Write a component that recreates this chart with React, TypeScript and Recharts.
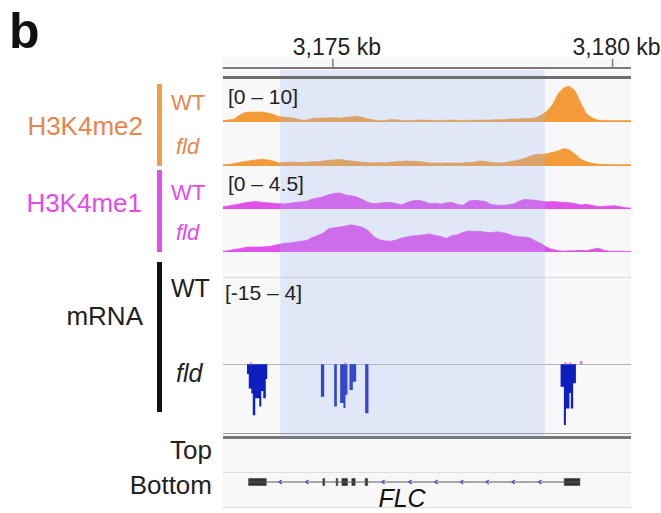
import React from 'react';
import { AreaChart, Area, XAxis, YAxis, ReferenceArea, ReferenceLine, ComposedChart, Scatter } from 'recharts';

const FONT = '"Liberation Sans", Arial, Helvetica, sans-serif';
const W = 661;
const H = 513;
const PLOT_LEFT = 222.7;
const PLOT_RIGHT = 631;
const MARGIN = { top: 0, bottom: 0, left: PLOT_LEFT, right: W - PLOT_RIGHT };

// genomic window (kb)
const X_DOMAIN: [number, number] = [3173.03, 3180.33];
const RULER_TICKS = [3175, 3180];
const HIGHLIGHT: [number, number] = [3174.06, 3178.79];

// signal bins: start + index * step (kb)
const BIN_START = 3173.03;
const BIN_STEP = 0.1;

const H3K4ME2_WT = [
  0.4, 0.5, 0.7, 1.8, 2.5, 2.6, 2.6, 2.6, 2.4, 2.0,
  1.4, 1.3, 1.1, 0.9, 0.5, 0.5, 0.9, 1.0, 1.0, 1.1,
  1.1, 1.0, 1.2, 1.3, 1.5, 1.2, 0.8, 0.5, 0.35, 0.35,
  0.6, 0.6, 0.4, 0.35, 0.4, 0.5, 0.5, 0.4, 0.4, 0.45,
  0.4, 0.5, 0.4, 0.4, 0.45, 0.4, 0.5, 0.45, 0.5, 0.6,
  0.55, 0.7, 0.8, 0.8, 0.9, 0.9, 1.1, 1.8, 2.9, 4.6,
  7.5, 9.0, 9.4, 8.2, 5.0, 2.2, 1.1, 0.5, 0.4, 0.35,
  0.35, 0.35, 0.35, 0.35,
];
const H3K4ME2_FLD = [
  0.35, 0.4, 0.6, 0.9, 1.2, 1.4, 1.6, 1.8, 1.6, 1.3,
  0.8, 0.9, 1.0, 1.0, 0.9, 1.0, 1.1, 1.1, 1.3, 1.5,
  1.6, 1.7, 1.5, 1.3, 1.1, 1.0, 0.9, 0.8, 0.9, 0.8,
  1.0, 1.1, 1.2, 1.3, 1.2, 1.2, 1.0, 0.8, 0.8, 0.7,
  0.8, 0.8, 0.7, 0.8, 0.9, 1.0, 1.3, 1.2, 0.9, 0.8,
  0.8, 1.0, 1.3, 1.6, 2.0, 2.6, 3.0, 3.1, 3.2, 3.6,
  4.0, 4.6, 4.2, 3.1, 1.8, 1.1, 0.7, 0.5, 0.4, 0.4,
  0.3, 0.3, 0.35, 0.35,
];
const H3K4ME1_WT = [
  0.3, 0.35, 0.5, 0.6, 0.75, 0.85, 0.9, 0.8, 0.75, 0.7,
  0.65, 0.6, 0.7, 0.8, 0.85, 0.95, 1.2, 1.35, 1.5, 1.75,
  1.9, 1.95, 1.7, 1.6, 1.45, 1.15, 0.8, 0.65, 0.7, 0.8,
  0.8, 0.65, 0.5, 0.8, 1.0, 1.05, 0.9, 0.65, 0.7, 0.6,
  0.75, 0.8, 0.55, 0.45, 0.95, 1.05, 1.0, 0.9, 0.55, 0.45,
  0.45, 0.5, 0.6, 0.95, 1.15, 1.1, 1.05, 0.95, 0.85, 0.9,
  0.85, 0.8, 0.75, 0.65, 0.5, 0.55, 0.45, 0.3, 0.3, 0.35,
  0.4, 0.3, 0.15, 0.12,
];
const H3K4ME1_FLD = [
  0.1, 0.15, 0.3, 0.4, 0.55, 0.6, 0.6, 0.6, 0.65, 0.75,
  0.9, 1.05, 1.1, 1.2, 1.3, 1.4, 1.75, 2.0, 2.3, 2.85,
  2.95, 3.05, 3.15, 3.3, 3.15, 3.0, 2.6, 1.9, 1.5, 1.35,
  1.3, 1.45, 1.7, 1.85, 1.95, 2.0, 2.1, 2.2, 2.0, 1.9,
  1.65, 2.0, 2.1, 2.4, 2.55, 2.5, 2.5, 2.4, 2.35, 2.45,
  2.35, 2.2, 1.95, 1.85, 1.8, 1.7, 1.3, 1.0, 0.55, 0.3,
  0.15, 0.1, 0.15, 0.15, 0.2, 0.15, 0.3, 0.45, 0.25, 0.1,
  0.1, 0.1, 0.05, 0.05,
];

// mRNA fld coverage, step segments [start kb, value] (value held until next start)
const MRNA_FLD_MINUS: [number, number][] = [
  [3173.464, -2], [3173.496, -5], [3173.541, -6], [3173.568, -10.5], [3173.612, -7],
  [3173.684, -8.7], [3173.72, -5.5], [3173.755, -7], [3173.8, -3], [3173.827, 0],
  [3174.786, -6.7], [3174.845, 0],
  [3175.023, -8.7], [3175.071, 0],
  [3175.13, -8], [3175.189, -9], [3175.225, -6.3], [3175.261, 0],
  [3175.296, -5.3], [3175.357, -3.6], [3175.416, 0],
  [3175.577, -10.1], [3175.636, 0],
  [3179.071, -4.6], [3179.13, -12.5], [3179.166, -9.1], [3179.229, -5.9],
  [3179.254, -9.1], [3179.296, -3.9], [3179.345, 0],
];
const MRNA_FLD_PLUS: [number, number][] = [
  [3173.514, 0.4], [3173.55, 0],
  [3175.202, 0.4], [3175.238, 0],
  [3179.139, 0.4], [3179.184, 0],
  [3179.225, 0.4], [3179.261, 0],
  [3179.416, 0.7], [3179.461, 0],
];
const MRNA_DOMAIN: [number, number] = [-15, 4];

// FLC gene model (kb)
const FLC_SPAN: [number, number] = [3173.493, 3179.416];
const FLC_EXONS: [number, number][] = [
  [3173.493, 3173.809],
  [3174.821, 3174.853],
  [3175.059, 3175.086],
  [3175.161, 3175.261],
  [3175.339, 3175.398],
  [3175.577, 3175.621],
  [3179.136, 3179.416],
];
const FLC_STRAND_MARKS = [3174.059, 3174.536, 3175.898, 3176.38, 3176.845, 3177.304, 3177.76, 3178.225, 3178.7];

const ORANGE = '#F29B38';
const ORANGE_TEXT = '#E8854D';
const MAGENTA = '#E052EA';
const MAGENTA_TEXT = '#E64BE6';
const BLUE = '#0D1FBF';
const PINK = '#E870E0';

const fmtKb = (v: number) => `${v.toLocaleString('en-US')} kb`;

function SignalTrack({ top, height, values, max, color }: { top: number; height: number; values: number[]; max: number; color: string }) {
  const data = values.map((v, i) => ({ x: +(BIN_START + i * BIN_STEP).toFixed(3), v }));
  return (
    <div style={{ position: 'absolute', left: 0, top, width: W, height }}>
      <AreaChart width={W} height={height} data={data} margin={MARGIN}>
        <XAxis type="number" dataKey="x" domain={X_DOMAIN} allowDataOverflow hide />
        <YAxis type="number" domain={[0, max]} allowDataOverflow hide />
        <Area type="linear" dataKey="v" stroke={color} strokeWidth={0.8} fill={color} fillOpacity={1} dot={false} activeDot={false} isAnimationActive={false} />
      </AreaChart>
    </div>
  );
}

function StepTrack({ top, height, steps, color }: { top: number; height: number; steps: [number, number][]; color: string }) {
  const data = [{ x: X_DOMAIN[0], v: 0 }, ...steps.map(([x, v]) => ({ x, v })), { x: X_DOMAIN[1], v: 0 }];
  return (
    <div style={{ position: 'absolute', left: 0, top, width: W, height }}>
      <AreaChart width={W} height={height} data={data} margin={MARGIN}>
        <XAxis type="number" dataKey="x" domain={X_DOMAIN} allowDataOverflow hide />
        <YAxis type="number" domain={MRNA_DOMAIN} allowDataOverflow hide />
        <Area type="stepAfter" dataKey="v" baseValue={0} stroke="none" fill={color} fillOpacity={1} dot={false} activeDot={false} isAnimationActive={false} />
      </AreaChart>
    </div>
  );
}

const RulerTick = (props: any) => {
  const { x, y, payload } = props;
  return (
    <text x={x + 4} y={y} textAnchor="middle" fontSize={23} fill="#222" fontFamily={FONT}>
      {fmtKb(payload.value)}
    </text>
  );
};

const Chevron = (props: any) => {
  const { cx, cy } = props;
  if (cx == null || cy == null) return null;
  return <path d={`M${cx + 1.5},${cy - 2} L${cx - 1.2},${cy} L${cx + 1.5},${cy + 2}`} stroke="#3a48d8" strokeWidth={1.2} fill="none" />;
};

const hline = (top: number, h: number, color: string, left = 223, width = 408) => (
  <div style={{ position: 'absolute', left, top, width, height: h, background: color }} />
);

export default function App() {
  const axisData = [{ x: X_DOMAIN[0], y: 0 }, { x: X_DOMAIN[1], y: 1 }];
  const markData = FLC_STRAND_MARKS.map((x) => ({ x, y: 0.5 }));
  return (
    <div style={{ position: 'absolute', left: 0, top: 0, width: W, height: H, background: '#fff', overflow: 'hidden', fontFamily: FONT }}>
      {/* panel background */}
      <div style={{ position: 'absolute', left: 223, top: 57, width: 408, height: 451, background: '#f8f8f8' }} />

      {/* ruler */}
      <div style={{ position: 'absolute', left: 0, top: 0, width: W, height: 72 }}>
        <ComposedChart width={W} height={72} data={axisData} margin={{ ...MARGIN, top: 38 }}>
          <XAxis type="number" dataKey="x" orientation="top" domain={X_DOMAIN} allowDataOverflow ticks={RULER_TICKS} interval={0}
            height={30} tickSize={9} tickMargin={4} axisLine={{ stroke: '#7a7a7a', strokeWidth: 2 }} tickLine={{ stroke: '#7a7a7a', strokeWidth: 1.5 }} tick={RulerTick} />
          <YAxis type="number" domain={[0, 1]} hide />
          <Area type="linear" dataKey="y" stroke="none" fill="none" dot={false} activeDot={false} isAnimationActive={false} />
        </ComposedChart>
      </div>

      {/* histone tracks */}
      <SignalTrack top={84} height={38} values={H3K4ME2_WT} max={10} color={ORANGE} />
      <SignalTrack top={128} height={38} values={H3K4ME2_FLD} max={10} color={ORANGE} />
      <SignalTrack top={172} height={37} values={H3K4ME1_WT} max={4.5} color={MAGENTA} />
      <SignalTrack top={215} height={37} values={H3K4ME1_FLD} max={4.5} color={MAGENTA} />

      {/* mRNA tracks */}
      {hline(276.5, 1, '#dcdcdc')}
      {hline(363.5, 1.5, '#b5b5b5')}
      <StepTrack top={345} height={92} steps={MRNA_FLD_MINUS} color={BLUE} />
      <StepTrack top={345} height={92} steps={MRNA_FLD_PLUS} color={PINK} />

      {/* gene model */}
      {hline(471.5, 1, '#dedede')}
      {hline(506.5, 1.5, '#dedede')}
      <div style={{ position: 'absolute', left: 0, top: 474, width: W, height: 16 }}>
        <ComposedChart width={W} height={16} data={markData} margin={MARGIN}>
          <XAxis type="number" dataKey="x" domain={X_DOMAIN} allowDataOverflow hide />
          <YAxis type="number" dataKey="y" domain={[0, 1]} hide />
          <ReferenceLine segment={[{ x: FLC_SPAN[0], y: 0.5 }, { x: FLC_SPAN[1], y: 0.5 }]} stroke="#5a5a5a" strokeWidth={1.2} ifOverflow="visible" />
          {FLC_EXONS.map(([a, b], i) => (
            <ReferenceArea key={i} x1={a} x2={b} y1={0.28} y2={0.72} fill="#333" fillOpacity={1} stroke="#333" strokeWidth={0.5} ifOverflow="visible" />
          ))}
          <Scatter data={markData} dataKey="y" shape={Chevron} isAnimationActive={false} />
        </ComposedChart>
      </div>

      {/* region highlight */}
      <div style={{ position: 'absolute', left: 0, top: 70, width: W, height: 366 }}>
        <ComposedChart width={W} height={366} data={axisData} margin={MARGIN}>
          <XAxis type="number" dataKey="x" domain={X_DOMAIN} allowDataOverflow hide />
          <YAxis type="number" dataKey="y" domain={[0, 1]} hide />
          <Area type="linear" dataKey="y" stroke="none" fill="none" dot={false} activeDot={false} isAnimationActive={false} />
          <ReferenceArea x1={HIGHLIGHT[0]} x2={HIGHLIGHT[1]} y1={0} y2={1} fill="rgb(160,184,240)" fillOpacity={0.27} stroke="none" ifOverflow="visible" />
        </ComposedChart>
      </div>

      {/* track frame lines */}
      {hline(76, 3, '#6e6e6e')}
      {hline(432.5, 1, '#9a9a9a')}
      {hline(435.5, 3, '#787878')}

      {/* text labels */}
      <svg width={W} height={H} style={{ position: 'absolute', left: 0, top: 0 }} fontFamily={FONT}>
        <text x={9} y={48} fontSize={50} fontWeight="bold" fill="#111">b</text>

        <rect x={157} y={84} width={5} height={82} fill="#F0A043" />
        <rect x={157} y={170} width={5} height={82} fill="#E84EEA" />
        <rect x={157} y={262} width={5} height={150} fill="#111" />

        <text x={143} y={135} fontSize={26} textAnchor="end" fill={ORANGE_TEXT}>H3K4me2</text>
        <text x={171} y={110} fontSize={22} fill={ORANGE_TEXT}>WT</text>
        <text x={176} y={154} fontSize={22} fontStyle="italic" fill={ORANGE_TEXT}>fld</text>

        <text x={142} y={212} fontSize={26} textAnchor="end" fill={MAGENTA_TEXT}>H3K4me1</text>
        <text x={171} y={200} fontSize={22} fill={MAGENTA_TEXT}>WT</text>
        <text x={176} y={240} fontSize={22} fontStyle="italic" fill={MAGENTA_TEXT}>fld</text>

        <text x={143} y={325} fontSize={26} textAnchor="end" fill="#222">mRNA</text>
        <text x={171} y={297} fontSize={25} fill="#222">WT</text>
        <text x={176} y={382} fontSize={25} fontStyle="italic" fill="#222">fld</text>

        <text x={212} y={459} fontSize={26} textAnchor="end" fill="#222">Top</text>
        <text x={212} y={494} fontSize={26} textAnchor="end" fill="#222">Bottom</text>

        <text x={228} y={104} fontSize={21} fill="#222">[0 – 10]</text>
        <text x={228} y={191} fontSize={21} fill="#222">[0 – 4.5]</text>
        <text x={225} y={300} fontSize={21} fill="#222">[-15 – 4]</text>

        <text x={402} y={507} fontSize={25} fontStyle="italic" textAnchor="middle" fill="#111">FLC</text>
      </svg>
    </div>
  );
}
